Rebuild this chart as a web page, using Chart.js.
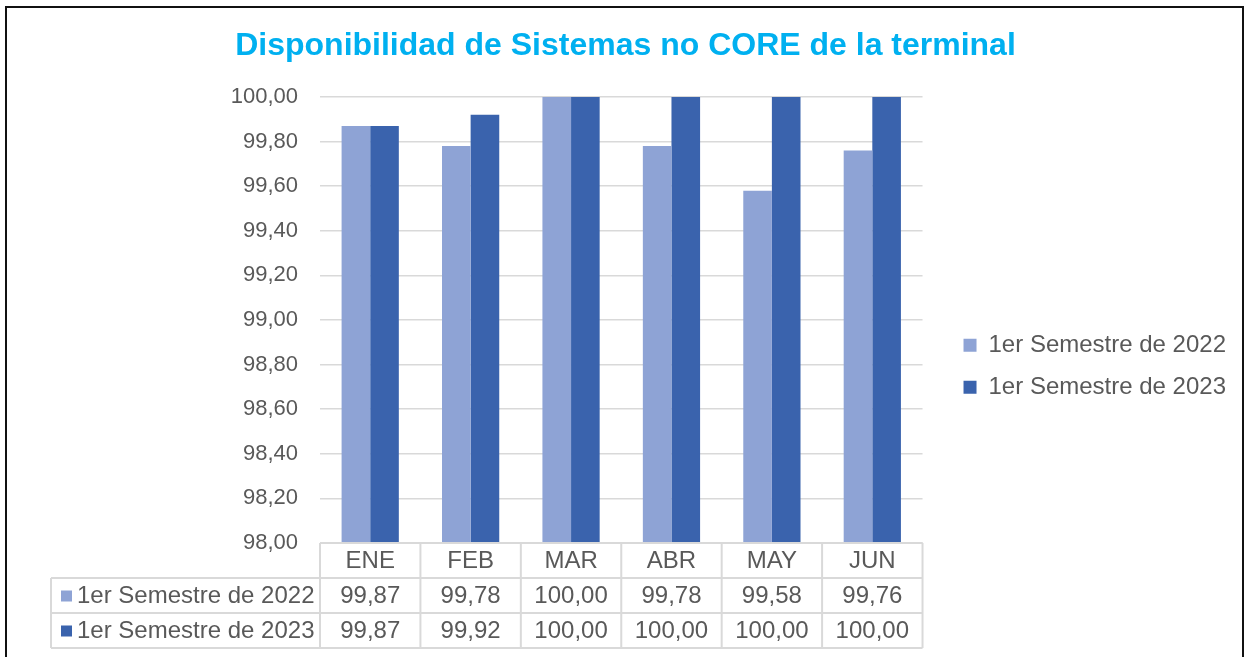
<!DOCTYPE html>
<html>
<head>
<meta charset="utf-8">
<script src="https://cdn.jsdelivr.net/npm/chart.js@4"></script>
<style>
  html, body { margin: 0; padding: 0; background: #fff; }
  #wrap { width: 1245px; height: 657px; position: relative; }
</style>
</head>
<body>
<div id="wrap"><canvas id="chart" width="1245" height="657"></canvas></div>
<script>
const months = ['ENE', 'FEB', 'MAR', 'ABR', 'MAY', 'JUN'];
const sem2022 = [99.87, 99.78, 100.00, 99.78, 99.58, 99.76];
const sem2023 = [99.87, 99.92, 100.00, 100.00, 100.00, 100.00];
const seriesNames = ['1er Semestre de 2022', '1er Semestre de 2023'];
const seriesColors = ['#8EA3D5', '#3A63AD'];

const FONT = '"Liberation Sans", Arial, sans-serif';
const TEXT = '#595959';
const LINE = '#d9d9d9';

function fmt(v) {
  return v.toFixed(2).replace('.', ',');
}

// frame round the whole picture
const framePlugin = {
  id: 'frame',
  beforeDraw(chart) {
    const ctx = chart.ctx;
    ctx.save();
    ctx.fillStyle = '#fff';
    ctx.fillRect(0, 0, chart.width, chart.height);
    ctx.strokeStyle = '#111';
    ctx.lineWidth = 2;
    ctx.strokeRect(6, 7, 1237, 700);
    ctx.restore();
  }
};

// data table under the plot, built on the x scale
const tablePlugin = {
  id: 'dataTable',
  afterDraw(chart) {
    const ctx = chart.ctx;
    const x = chart.scales.x;
    const area = chart.chartArea;
    const rowH = 35;
    const top = area.bottom;
    const leftCol = 51;
    const half = (x.getPixelForValue(1) - x.getPixelForValue(0)) / 2;
    const rows = [months, sem2022.map(fmt), sem2023.map(fmt)];

    ctx.save();
    ctx.strokeStyle = LINE;
    ctx.lineWidth = 2;
    ctx.beginPath();
    // horizontal lines
    ctx.moveTo(area.left, top);
    ctx.lineTo(area.right, top);
    for (let r = 1; r <= rows.length; r++) {
      ctx.moveTo(leftCol, top + r * rowH);
      ctx.lineTo(area.right, top + r * rowH);
    }
    // vertical lines
    months.forEach((m, i) => {
      const cx = x.getPixelForValue(i);
      ctx.moveTo(cx - half, top);
      ctx.lineTo(cx - half, top + rows.length * rowH);
    });
    ctx.moveTo(area.right, top);
    ctx.lineTo(area.right, top + rows.length * rowH);
    ctx.moveTo(leftCol, top + rowH);
    ctx.lineTo(leftCol, top + rows.length * rowH);
    ctx.stroke();

    ctx.fillStyle = TEXT;
    ctx.font = '24px ' + FONT;
    ctx.textAlign = 'center';
    ctx.textBaseline = 'middle';
    rows.forEach((row, r) => {
      const cy = top + r * rowH + rowH / 2 + 1;
      row.forEach((txt, i) => {
        ctx.fillText(txt, x.getPixelForValue(i), cy);
      });
    });

    // series names with colour keys
    ctx.textAlign = 'left';
    seriesNames.forEach((name, s) => {
      const cy = top + (s + 1) * rowH + rowH / 2 + 1;
      ctx.fillStyle = seriesColors[s];
      ctx.fillRect(61, cy - 6, 11, 11);
      ctx.fillStyle = TEXT;
      ctx.fillText(name, 77, cy);
    });
    ctx.restore();
  }
};

new Chart(document.getElementById('chart'), {
  type: 'bar',
  data: {
    labels: months,
    datasets: [
      { label: seriesNames[0], data: sem2022, backgroundColor: seriesColors[0] },
      { label: seriesNames[1], data: sem2023, backgroundColor: seriesColors[1] }
    ]
  },
  options: {
    responsive: false,
    animation: false,
    categoryPercentage: 0.57,
    barPercentage: 1.0,
    layout: { padding: { left: 15, right: 9, top: 0, bottom: 9 } },
    plugins: {
      title: {
        display: true,
        text: 'Disponibilidad de Sistemas no CORE de la terminal',
        color: '#00B0F0',
        font: { family: FONT, size: 32, weight: 'bold' },
        padding: { top: 27, bottom: 31.6 }
      },
      legend: {
        position: 'right',
        title: {
          display: true,
          text: '',
          font: { size: 12 },
          padding: { top: 70, bottom: 0 }
        },
        labels: {
          color: TEXT,
          font: { family: FONT, size: 24 },
          boxWidth: 13,
          boxHeight: 13,
          padding: 18
        }
      },
      tooltip: { enabled: false }
    },
    scales: {
      x: {
        grid: { display: false },
        border: { display: false },
        ticks: { display: false },
        afterFit(scale) { scale.height = 105; }
      },
      y: {
        min: 98,
        max: 100,
        grid: { color: LINE, lineWidth: 1.5, drawTicks: false },
        border: { display: false },
        ticks: {
          stepSize: 0.2,
          color: TEXT,
          font: { family: FONT, size: 22 },
          padding: 22,
          callback: v => fmt(v)
        },
        afterFit(scale) { scale.width = 305; }
      },
      gap: {
        position: 'right',
        display: false,
        afterFit(scale) { scale.width = 23; }
      }
    }
  },
  plugins: [framePlugin, tablePlugin]
});
</script>
</body>
</html>
